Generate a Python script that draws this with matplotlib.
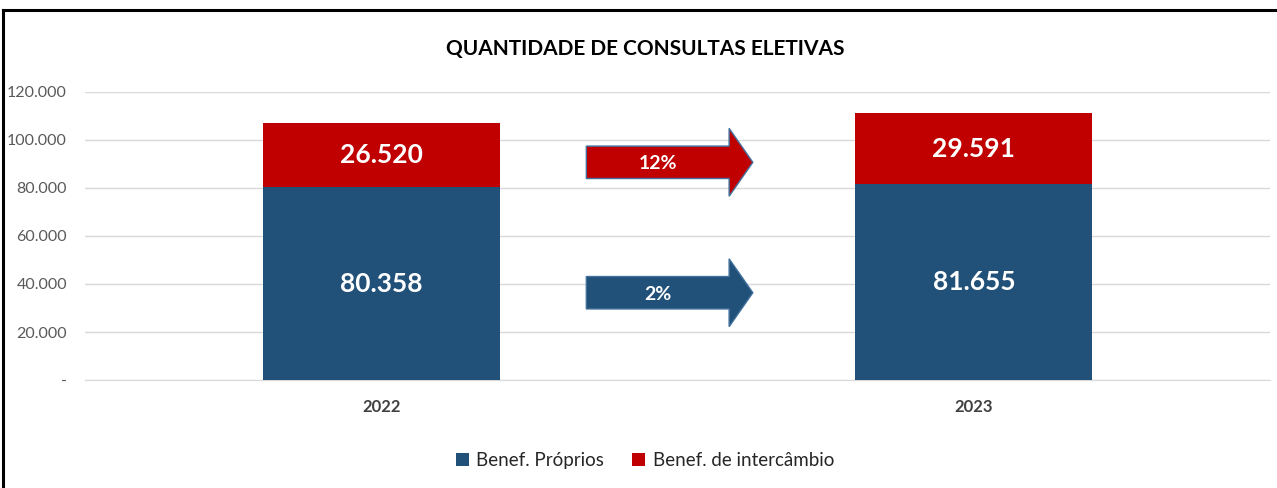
import matplotlib
matplotlib.use('Agg')
import matplotlib.pyplot as plt
from matplotlib.patches import FancyArrow
import numpy as np

# dados
anos = ['2022', '2023']
proprios = [80358, 81655]
intercambio = [26520, 29591]
series = ['Benef. Próprios', 'Benef. de intercâmbio']
titulo = 'QUANTIDADE DE CONSULTAS ELETIVAS'

plt.rcParams['font.family'] = ['Lato', 'DejaVu Sans']

azul = '#215078'
vermelho = '#C00000'

fig = plt.figure(figsize=(12.77, 4.88), dpi=100)
ax = fig.add_axes([0.0666, 0.2213, 0.928, 0.5902])

x = np.arange(len(anos))
b1 = ax.bar(x, proprios, width=0.4, color=azul, label=series[0], zorder=3)
b2 = ax.bar(x, intercambio, width=0.4, bottom=proprios, color=vermelho, label=series[1], zorder=3)

def fmt(v):
    return f'{v:,.0f}'.replace(',', '.')

for i in range(len(anos)):
    ax.text(x[i], proprios[i] / 2, fmt(proprios[i]), ha='center', va='center',
            color='white', fontsize=19, fontweight='bold', zorder=4)
    ax.text(x[i], proprios[i] + intercambio[i] / 2, fmt(intercambio[i]), ha='center', va='center',
            color='white', fontsize=19, fontweight='bold', zorder=4)

# setas de variacao
var_prop = round((proprios[1] / proprios[0] - 1) * 100)
var_inter = round((intercambio[1] / intercambio[0] - 1) * 100)
x0, x1 = 0.346, 0.627
for yc, cor, txt in [(proprios[0] * 0.4525, azul, f'{var_prop}%'),
                     (proprios[0] + intercambio[0] * 0.39, vermelho, f'{var_inter}%')]:
    seta = FancyArrow(x0, yc, x1 - x0, 0, width=13500, head_width=28300, head_length=0.04,
                      length_includes_head=True, facecolor=cor, edgecolor='#41719C',
                      linewidth=1, zorder=4)
    ax.add_patch(seta)
    ax.text((x0 + x1 - 0.04) / 2, yc - 600, txt, ha='center', va='center', color='white',
            fontsize=14, fontweight='bold', zorder=5)

ax.set_xlim(-0.5, 1.5)
ax.set_ylim(0, 120000)
ax.set_yticks(np.arange(0, 120001, 20000))
ax.set_yticklabels(['-' if v == 0 else fmt(v) for v in np.arange(0, 120001, 20000)],
                   fontsize=11.5, color='#595959')
ax.set_xticks(x)
ax.set_xticklabels(anos, fontsize=12, fontweight='bold', color='#404040')
ax.tick_params(axis='y', length=0, pad=13)
ax.tick_params(axis='x', length=0, pad=14)
ax.grid(axis='y', color='#D9D9D9', linewidth=1, zorder=0)
for s in ax.spines.values():
    s.set_visible(False)
ax.spines['bottom'].set_visible(True)
ax.spines['bottom'].set_color('#D9D9D9')

fig.text(0.505, 0.9, titulo, ha='center', va='center', fontsize=15, fontweight='bold', color='black')

fig.legend(handles=[b1, b2], labels=series, loc='center', bbox_to_anchor=(0.505, 0.057),
           ncol=2, frameon=False, fontsize=13.5, handlelength=0.7, handleheight=0.7,
           columnspacing=1.5, handletextpad=0.4, labelcolor='#262626')

# moldura
fig.add_artist(plt.Line2D([0.002, 1.0], [0.979, 0.979], color='black', linewidth=2.2,
                          transform=fig.transFigure))
fig.add_artist(plt.Line2D([0.0025, 0.0025], [0.0, 0.979], color='black', linewidth=2.2,
                          transform=fig.transFigure))

fig.savefig('out.png', dpi=100)
